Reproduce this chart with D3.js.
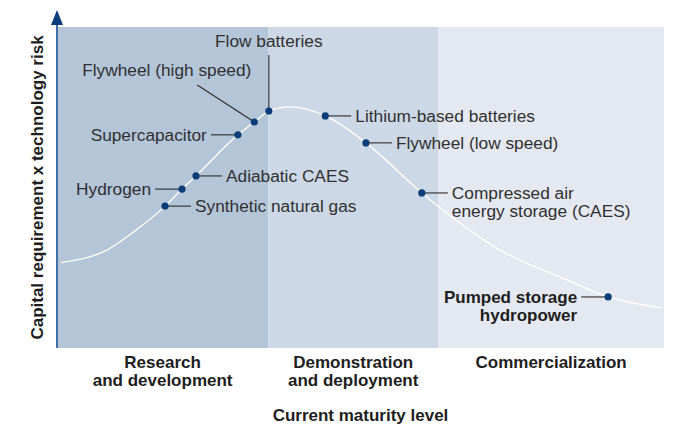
<!DOCTYPE html>
<html>
<head>
<meta charset="utf-8">
<title>Maturity curve</title>
<style>
body { margin: 0; background: #fff; }
svg { display: block; font-family: "Liberation Sans", Arial, sans-serif; }
</style>
<script src="https://d3js.org/d3.v7.min.js"></script>
</head>
<body>
<script>

// maturity stages (band edges on a 0-100 maturity scale)
let stageLabels = [["Research", "and development"], ["Demonstration", "and deployment"], ["Commercialization"]];
let stageEdges = [0, 34.8, 62.8, 100];

// technologies: maturity (x) and capital requirement x risk (y), 0-100
let techNames = ["Synthetic natural gas", "Hydrogen", "Adiabatic CAES", "Supercapacitor",
  "Flywheel (high speed)", "Flow batteries", "Lithium-based batteries", "Flywheel (low speed)",
  "Compressed air\nenergy storage (CAES)", "Pumped storage\nhydropower"];
let techX = [17.8, 20.6, 22.9, 29.8, 32.5, 34.9, 44.2, 50.9, 60.1, 90.8];
let techY = [44.2, 49.5, 53.6, 66.4, 70.4, 73.8, 72.3, 63.9, 48.3, 15.9];

// the white curve
let curveX = [0.7, 8.2, 13.7, 17.8, 20.6, 22.9, 29.8, 32.5, 34.9, 38.4, 44.2, 50.9, 60.1, 73, 84, 90.8, 99.7];
let curveY = [26.6, 30.5, 37.7, 44.2, 49.5, 53.6, 66.4, 70.4, 73.8, 75.1, 72.3, 63.9, 48.3, 30.5, 21.2, 15.9, 12.5];

// where each label sits relative to its dot
let labelSide = ["right", "left", "right", "left", "diag", "up", "right", "right", "right", "left"];

const W = 677, H = 424;
const plotL = 57, plotR = 664, plotT = 27, plotB = 348;

let svg = d3.select("body").append("svg").attr("width", W).attr("height", H);

let x = d3.scaleLinear().domain([0, 100]).range([plotL, plotR]);
let y = d3.scaleLinear().domain([0, 100]).range([plotB, plotT]);

let bandColors = ["#b4c5d8", "#ccd8e5", "#e4e9f1"];

svg.selectAll("rect.band").data(stageLabels).enter().append("rect")
  .attr("class", "band")
  .attr("x", (d,i) => x(stageEdges[i]))
  .attr("y", plotT)
  .attr("width", (d,i) => x(stageEdges[i+1]) - x(stageEdges[i]))
  .attr("height", plotB - plotT)
  .attr("fill", (d,i) => bandColors[i]);

// stage labels under the bands
let st = svg.selectAll("text.stage").data(stageLabels).enter().append("text")
  .attr("class", "stage")
  .attr("text-anchor", "middle")
  .attr("font-weight", "bold")
  .attr("font-size", "17px")
  .attr("fill", "#1e1e1e");
st.selectAll("tspan").data((d,i) => d.map(s => ({s: s, i: i}))).enter().append("tspan")
  .attr("x", d => (x(stageEdges[d.i]) + x(stageEdges[d.i+1])) / 2)
  .attr("y", (d,j) => 368 + j * 18)
  .text(d => d.s);

svg.append("text")
  .attr("x", (plotL + plotR) / 2)
  .attr("y", 421)
  .attr("text-anchor", "middle")
  .attr("font-weight", "bold")
  .attr("font-size", "17px")
  .attr("fill", "#1e1e1e")
  .text("Current maturity level");

svg.append("text")
  .attr("transform", "translate(43," + ((plotT + plotB) / 2) + ") rotate(-90)")
  .attr("text-anchor", "middle")
  .attr("font-weight", "bold")
  .attr("font-size", "17px")
  .attr("fill", "#1e1e1e")
  .text("Capital requirement x technology risk");

// y axis with arrow
svg.append("line")
  .attr("x1", plotL).attr("x2", plotL)
  .attr("y1", 24).attr("y2", plotB)
  .attr("stroke", "#4070a8").attr("stroke-width", 2);
svg.append("path")
  .attr("d", "M" + plotL + ",10 L" + (plotL + 6) + ",25 L" + (plotL - 6) + ",25 Z")
  .attr("fill", "#0b3d7c");

let line = d3.line().x(d => x(d[0])).y(d => y(d[1])).curve(d3.curveMonotoneX);
svg.append("path")
  .datum(d3.zip(curveX, curveY))
  .attr("d", line)
  .attr("fill", "none")
  .attr("stroke", "#fff")
  .attr("stroke-width", 1.3);

let techs = techNames.map((n,i) => ({name: n, x: techX[i], y: techY[i], side: labelSide[i]}));

let g = svg.selectAll("g.tech").data(techs).enter().append("g").attr("class", "tech");

function leaderEnd(d) {
  let px = x(d.x), py = y(d.y);
  if (d.side == "right") return [px + 26, py];
  if (d.side == "left") return [px - 27, py];
  if (d.side == "up") return [px, py - 56];
  return [px - 57, py - 37];
}

g.append("line")
  .attr("x1", d => x(d.x)).attr("y1", d => y(d.y))
  .attr("x2", d => leaderEnd(d)[0]).attr("y2", d => leaderEnd(d)[1])
  .attr("stroke", "#2a2a2a").attr("stroke-width", 1.1);

g.append("circle")
  .attr("cx", d => x(d.x)).attr("cy", d => y(d.y))
  .attr("r", 3.6)
  .attr("fill", "#0b3d78");

let lab = g.append("text")
  .attr("font-size", d => d.name.startsWith("Pumped") ? "17px" : "17.3px")
  .attr("font-weight", d => d.name.startsWith("Pumped") ? "bold" : "normal")
  .attr("fill", d => d.name.startsWith("Pumped") ? "#1e1e1e" : "#303030")
  .attr("text-anchor", d => d.side == "right" ? "start" : d.side == "up" ? "middle" : "end");

lab.selectAll("tspan").data(d => d.name.split("\n").map(s => ({s: s, d: d}))).enter().append("tspan")
  .attr("x", t => {
    let px = x(t.d.x);
    if (t.d.side == "right") return px + 30;
    if (t.d.side == "left") return px - 31;
    if (t.d.side == "up") return px;
    return px - 3;
  })
  .attr("y", (t,j) => {
    let py = y(t.d.y);
    if (t.d.side == "up") return py - 64;
    if (t.d.side == "diag") return py - 46;
    return py + 6 + j * 18;
  })
  .text(t => t.s);

</script>
</body>
</html>
